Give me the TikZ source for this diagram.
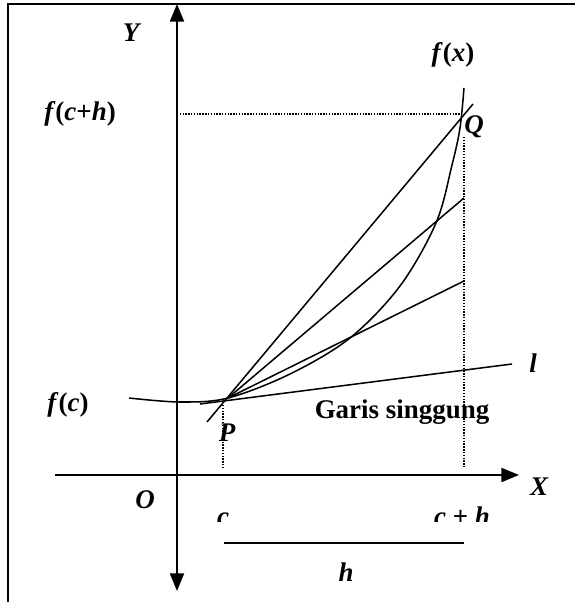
\documentclass[tikz,border=0pt]{standalone}
\usepackage{fontspec}
\setmainfont{Liberation Serif}
\usetikzlibrary{arrows.meta,positioning,calc}

\begin{document}
\begin{tikzpicture}[x=0.03cm,y=-0.03cm,
  axis/.style={line width=1.5pt,-{Triangle[length=15pt,width=12pt]}},
  graphline/.style={line width=1.3pt},
  guide/.style={line width=1.2pt,dash pattern=on 1.2pt off 1.2pt},
  lbl/.style={font=\fontsize{23}{27}\selectfont\bfseries\itshape,inner sep=0pt}]
  \useasboundingbox (0,0) rectangle (575,602);
  \draw[line width=1.8pt] (8,602) -- (8,4) -- (575,4);
  % axes
  \coordinate (O) at (177,475);
  \coordinate (Ytop) at (177,4);
  \coordinate (Ybot) at (177,591);
  \coordinate (Xleft) at (55,475);
  \coordinate (Xright) at (519,475);
  \draw[axis] (O) -- (Ytop);
  \draw[axis] (O) -- (Ybot);
  \draw[axis] (Xleft) -- (Xright);
  % points on the curve
  \coordinate (P) at (228,398);
  \coordinate (Q) at (463,114);
  \coordinate (Qy) at (177,114);
  \coordinate (Qtop) at (464,137);
  \coordinate (Qfoot) at (464,467);
  \coordinate (Ptop) at (223,405);
  \coordinate (Pfoot) at (223,467);
  \draw[guide] (Qy) -- (Q);
  \draw[guide] (Qtop) -- (Qfoot);
  \draw[guide] (Ptop) -- (Pfoot);
  % f(x)
  \draw[graphline] plot[smooth,tension=0.55] coordinates
    {(129,398) (180,402) (228,398) (290,374) (350,338) (400,286) (436,223) (452,165) (460,128) (464,88)};
  % secants and tangent
  \coordinate (S1a) at (207,422);
  \coordinate (S1b) at (473,104);
  \coordinate (S2b) at (464,198);
  \coordinate (S3b) at (464,281);
  \coordinate (La) at (200,404);
  \coordinate (Lb) at (512,364);
  \draw[graphline] (S1a) -- (S1b);
  \draw[graphline] (P) -- (S2b);
  \draw[graphline] (P) -- (S3b);
  \draw[graphline] (La) -- (Lb);
  % h
  \coordinate (Hl) at (224,543);
  \coordinate (Hr) at (464,543);
  \draw[line width=1.5pt] (Hl) -- (Hr);
  % labels
  \node[lbl] (ylab) at (131,33) {Y};
  \node[lbl] (xlab) at (539,487) {X};
  \node[lbl] (olab) at (145,500) {O};
  \node[lbl] (fxlab) at (453,55) {f\textup{(}x\textup{)}};
  \node[lbl] (fchlab) at (80,114) {f\textup{(}c\textup{+}h\textup{)}};
  \node[lbl] (fclab) at (68,405) {f\textup{(}c\textup{)}};
  \node[lbl] (qlab) at (474,127) {Q};
  \node[lbl] (plab) at (227,433) {P};
  \node[lbl] (llab) at (533,363) {l};
  \node[lbl,font=\fontsize{23}{27}\selectfont\bfseries] (tglab) at (402,412) {Garis singgung};
  \node[lbl] (hlab) at (346,572) {h};
  \begin{scope}
    \clip (150,480) rectangle (520,521);
    \node[lbl,anchor=base] (clab) at (223,525) {c};
    \node[lbl,anchor=base] (chlab) at (462,525) {c \textup{+} h};
  \end{scope}
\end{tikzpicture}
\end{document}
